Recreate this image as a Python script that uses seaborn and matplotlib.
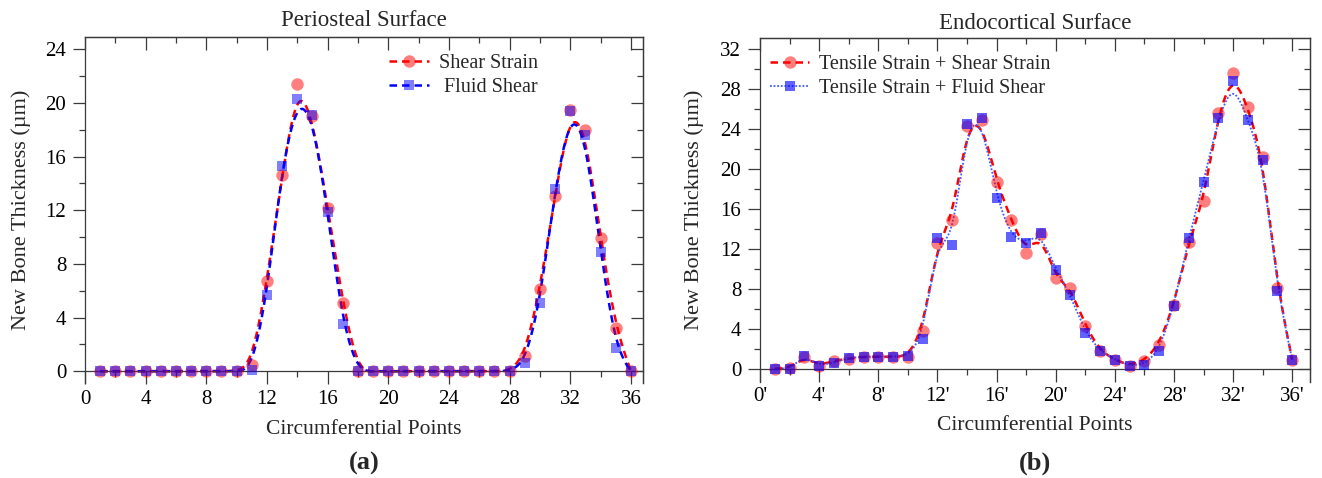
import numpy as np
import matplotlib
matplotlib.use("Agg")
import matplotlib.pyplot as plt
import seaborn as sns
from matplotlib.lines import Line2D
from matplotlib.ticker import MultipleLocator, FuncFormatter

# Pontos circunferenciais 1..36
points = np.arange(1, 37)

# Painel (a) - superficie periosteal
peri_shear_strain = [0, 0, 0, 0, 0, 0, 0, 0, 0, 0,
                     0.5, 6.7, 14.6, 21.4, 19.0, 12.2, 5.1, 0,
                     0, 0, 0, 0, 0, 0, 0, 0, 0, 0,
                     1.1, 6.1, 13.1, 19.5, 18.0, 9.9, 3.2, 0]
peri_fluid_shear = [0, 0, 0, 0, 0, 0, 0, 0, 0, 0,
                    0.1, 5.7, 15.3, 20.3, 19.1, 11.9, 3.5, 0,
                    0, 0, 0, 0, 0, 0, 0, 0, 0, 0,
                    0.6, 5.1, 13.6, 19.4, 17.6, 8.9, 1.7, 0]

# Painel (b) - superficie endocortical
endo_tensile_shear = [0, 0.05, 1.2, 0.3, 0.8, 1.0, 1.2, 1.2, 1.2, 1.2,
                      3.8, 12.6, 14.9, 24.3, 24.9, 18.7, 14.9, 11.6,
                      13.5, 9.1, 8.1, 4.3, 1.8, 0.9, 0.3, 0.8, 2.4, 6.4,
                      12.7, 16.8, 25.6, 29.6, 26.2, 21.2, 8.1, 0.9]
endo_tensile_fluid = [0, 0, 1.3, 0.3, 0.6, 1.1, 1.2, 1.2, 1.2, 1.3,
                      3.0, 13.1, 12.4, 24.5, 25.1, 17.1, 13.2, 12.6,
                      13.6, 9.9, 7.4, 3.6, 1.8, 0.9, 0.3, 0.4, 1.8, 6.3,
                      13.1, 18.7, 25.1, 28.8, 24.9, 20.9, 7.8, 0.9]

peri_labels = ["Shear Strain", " Fluid Shear"]
endo_labels = ["Tensile Strain + Shear Strain", "Tensile Strain + Fluid Shear"]

sns.set_style("ticks")
plt.rcParams['font.family'] = ['Liberation Serif', 'DejaVu Serif']
plt.rcParams['axes.edgecolor'] = '#3a3a3a'
plt.rcParams['axes.linewidth'] = 0.9
plt.rcParams['xtick.color'] = '#3a3a3a'
plt.rcParams['ytick.color'] = '#3a3a3a'
plt.rcParams['xtick.labelcolor'] = 'black'
plt.rcParams['ytick.labelcolor'] = 'black'


# Curva B-spline cubica (ligacao suave como no Origin)
def bspline(x, y, n=24):
    px = np.concatenate([[x[0]] * 2, np.asarray(x, float), [x[-1]] * 2])
    py = np.concatenate([[y[0]] * 2, np.asarray(y, float), [y[-1]] * 2])
    t = np.linspace(0, 1, n, endpoint=False)
    b0 = (1 - t) ** 3 / 6
    b1 = (3 * t ** 3 - 6 * t ** 2 + 4) / 6
    b2 = (-3 * t ** 3 + 3 * t ** 2 + 3 * t + 1) / 6
    b3 = t ** 3 / 6
    cx, cy = [], []
    for i in range(len(px) - 3):
        cx.append(b0 * px[i] + b1 * px[i + 1] + b2 * px[i + 2] + b3 * px[i + 3])
        cy.append(b0 * py[i] + b1 * py[i + 1] + b2 * py[i + 2] + b3 * py[i + 3])
    cx.append([px[-1]])
    cy.append([py[-1]])
    return np.concatenate(cx), np.concatenate(cy)


def style_axes(ax, ymax, ymin, xmax, xfmt=None):
    ax.set_xlim(0, xmax)
    ax.set_ylim(ymin, ymax)
    ax.spines['bottom'].set_position(('data', 0))
    ax.xaxis.set_major_locator(MultipleLocator(4))
    ax.xaxis.set_minor_locator(MultipleLocator(2))
    ax.set_yticks(np.arange(0, ymax, 4))
    ax.yaxis.set_minor_locator(MultipleLocator(2))
    if xfmt:
        ax.xaxis.set_major_formatter(FuncFormatter(xfmt))
    ax.tick_params(which='both', direction='out', width=0.9, labelsize=15)
    ax.tick_params(which='major', length=9, pad=4.5)
    ax.tick_params(which='minor', length=4.5)
    # ticks espelhados (para dentro) no topo e a direita
    top = ax.secondary_xaxis('top')
    top.xaxis.set_major_locator(MultipleLocator(4))
    top.xaxis.set_minor_locator(MultipleLocator(2))
    top.tick_params(which='both', direction='in', labeltop=False, width=0.9)
    top.tick_params(which='major', length=9)
    top.tick_params(which='minor', length=4.5)
    right = ax.secondary_yaxis('right')
    right.set_yticks(np.arange(0, ymax, 4))
    right.yaxis.set_minor_locator(MultipleLocator(2))
    right.tick_params(which='both', direction='in', labelright=False, width=0.9)
    right.tick_params(which='major', length=9)
    right.tick_params(which='minor', length=4.5)


def draw_series(ax, y, color, marker, size, alpha, ls, lw, lcolor):
    cx, cy = bspline(points, y)
    sns.lineplot(x=cx, y=cy, ax=ax, color=lcolor, linestyle=ls, linewidth=lw,
                 sort=False, estimator=None, zorder=2)
    sns.scatterplot(x=points, y=y, ax=ax, marker=marker, s=size, color=color,
                    alpha=alpha, linewidth=0, zorder=3, legend=False)


fig = plt.figure(figsize=(13.22, 4.78), dpi=100)
ax1 = fig.add_axes([0.0643, 0.1981, 0.4221, 0.7245])
ax2 = fig.add_axes([0.5749, 0.2015, 0.4160, 0.7184])

red_dash = (0, (3, 2))
blue_dash = (0, (3, 2))
blue_dot = (0, (1, 1))

# (a)
draw_series(ax1, peri_shear_strain, 'red', 'o', 80, 0.5, red_dash, 1.8, 'red')
draw_series(ax1, peri_fluid_shear, 'blue', 's', 55, 0.5, blue_dash, 1.8, 'blue')
style_axes(ax1, 24.92, -0.9, 36.8)
ax1.set_title("Periosteal Surface", fontsize=16.5, pad=8)
ax1.set_xlabel("Circumferential Points", fontsize=15.5)
ax1.set_ylabel("New Bone Thickness (µm)", fontsize=16)
ax1.xaxis.set_label_coords(0.5, -0.105)
ax1.yaxis.set_label_coords(-0.096, 0.5)
h1 = [Line2D([], [], color='red', linestyle=red_dash, linewidth=1.8, marker='o',
             markersize=9, markerfacecolor=(1, 0, 0, 0.5), markeredgewidth=0),
      Line2D([], [], color='blue', linestyle=blue_dash, linewidth=1.8, marker='s',
             markersize=7.5, markerfacecolor=(0, 0, 1, 0.5), markeredgewidth=0)]
ax1.legend(h1, peri_labels, loc='upper left', bbox_to_anchor=(389 / 1322, 1 - 54 / 478),
           bbox_transform=fig.transFigure, frameon=False, fontsize=14.5, numpoints=1,
           handlelength=2.0, handletextpad=0.5, labelspacing=0.25, borderpad=0, borderaxespad=0)

# (b)
draw_series(ax2, endo_tensile_shear, 'red', 'o', 80, 0.5, red_dash, 1.8, 'red')
draw_series(ax2, endo_tensile_fluid, 'blue', 's', 55, 0.62, blue_dot, 1.3, '#3d5cff')
style_axes(ax2, 33.1, -1.3, 37.2, xfmt=lambda v, p: f"{int(v)}'")
ax2.set_title("Endocortical Surface", fontsize=16.5, pad=7)
ax2.set_xlabel("Circumferential Points", fontsize=15.5)
ax2.set_ylabel("New Bone Thickness (µm)", fontsize=16)
ax2.xaxis.set_label_coords(0.5, -0.1)
ax2.yaxis.set_label_coords(-0.102, 0.5)
h2 = [Line2D([], [], color='red', linestyle=red_dash, linewidth=1.8, marker='o',
             markersize=9, markerfacecolor=(1, 0, 0, 0.5), markeredgewidth=0),
      Line2D([], [], color='#3d5cff', linestyle=blue_dot, linewidth=1.3, marker='s',
             markersize=7.5, markerfacecolor=(0, 0, 1, 0.62), markeredgewidth=0)]
ax2.legend(h2, endo_labels, loc='upper left', bbox_to_anchor=(770 / 1322, 1 - 55 / 478),
           bbox_transform=fig.transFigure, frameon=False, fontsize=14.5, numpoints=1,
           handlelength=1.95, handletextpad=0.5, labelspacing=0.25, borderpad=0, borderaxespad=0)

fig.text(364 / 1322, 1 - 463 / 478, "(a)", fontsize=19, fontweight='bold', ha='center', va='center')
fig.text(1035 / 1322, 1 - 463 / 478, "(b)", fontsize=19, fontweight='bold', ha='center', va='center')

fig.savefig("out.png", dpi=100)
